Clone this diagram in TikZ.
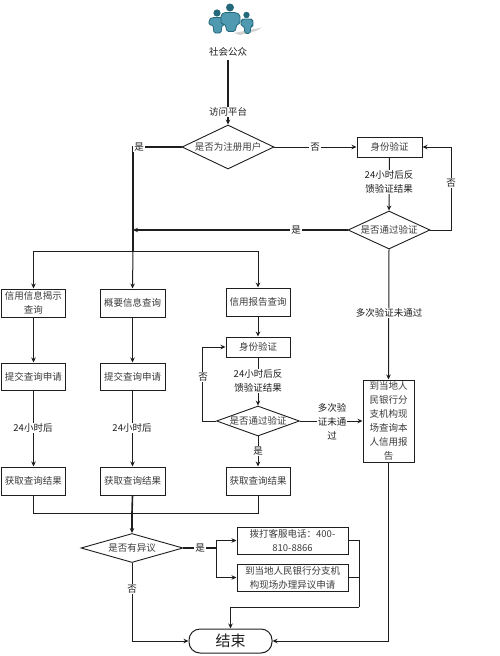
\documentclass[tikz,border=0pt]{standalone}
\usepackage{fontspec}
\setmainfont{Noto Sans CJK SC}
\usetikzlibrary{arrows.meta,positioning,calc,shapes.geometric}
\definecolor{ink}{HTML}{1E1E1E}
\definecolor{boxtext}{HTML}{3C3C3C}
\definecolor{peopledark}{HTML}{24687C}
\definecolor{peoplelight}{HTML}{4F9AB0}
\tikzset{stepbox/.style={draw=ink,line width=1pt,fill=white,align=center,font=\fontsize{9.5}{14}\selectfont,text=boxtext,inner sep=1pt},ask/.style={diamond,draw=ink,line width=.9pt,fill=white,font=\fontsize{9.5}{12}\selectfont,text=boxtext,inner sep=-2pt},flow/.style={-{Stealth[length=5pt,width=4.5pt]},line width=1pt,draw=ink},heavyflow/.style={flow,line width=1.6pt},plain/.style={line width=1pt,draw=ink},heavy/.style={line width=1.6pt,draw=ink},note/.style={fill=white,font=\fontsize{9.5}{14}\selectfont,text=ink,align=center,inner sep=1pt},person/.style={fill=peoplelight,draw=peopledark,line width=.8pt,rounded corners=1.5pt}}
\begin{document}
\begin{tikzpicture}[x=1pt,y=-1pt]
\useasboundingbox (0,0) rectangle (500,656);
% people
\fill[gray!35] (234,33) -- (262,27.5) -- (256,31) -- (240,35) -- cycle;
\draw[person] (209,20) -- (212,17.5) -- (222,17.5) -- (225,20) -- (225,25) -- (222,25) -- (221,33) -- (214,33) -- (213,25) -- (209,25) -- cycle;
\fill[peopledark] (217,13) circle (3.6pt);
\draw[person] (241,21) -- (243,19) -- (251,19) -- (253,21) -- (253,26) -- (251,26) -- (250,33.5) -- (245,33.5) -- (244,26) -- (241,26) -- cycle;
\fill[peopledark] (246.5,15) circle (3.2pt);
\draw[person] (221,15) -- (224,12.5) -- (236,12.5) -- (240,15) -- (240,24) -- (237,24) -- (235,31.5) -- (227,31.5) -- (225,24) -- (221,24) -- cycle;
\fill[peopledark] (230,7.5) circle (4pt);
\node[note,inner sep=0pt,minimum height=16pt] (public) at (228,52) {社会公众};
% decisions
\node[ask,minimum width=92pt,minimum height=44pt,aspect=2.09] (regq) at (228,147) {是否为注册用户};
\node[ask,minimum width=82pt,minimum height=38pt,aspect=2.16] (passq) at (389,230) {是否通过验证};
\node[ask,minimum width=83pt,minimum height=30pt,aspect=2.77] (passr) at (258,421) {是否通过验证};
\node[ask,minimum width=102pt,minimum height=29pt,aspect=3.5] (objq) at (132,548) {是否有异议};
% boxes
\foreach \nam/\cx/\cy/\bw/\bh/\txt in {
  idcheck/389.5/147/65/20/身份验证,
  disclose/33.5/303/64/28/{信用信息揭示\\查询},
  summary/132.5/303/65/28/概要信息查询,
  report/258/302/64/28/信用报告查询,
  submita/33.5/376.5/64/27/提交查询申请,
  submitb/132.5/376.5/65/27/提交查询申请,
  idcheckr/258/347/64/20/身份验证,
  resulta/33.5/481/64/28/获取查询结果,
  resultb/132.5/481/65/28/获取查询结果,
  resultc/258/481/64/28/获取查询结果,
  bank/388.5/421/51/82/{到当地人\\民银行分\\支机构现\\场查询本\\人信用报\\告},
  phone/292.5/540.5/111/27/{拨打客服电话：400-\\810-8866},
  apply/292.5/577.5/111/27/{到当地人民银行分支机\\构现场办理异议申请}}{
  \node[stepbox,minimum width=\bw pt,minimum height=\bh pt] (\nam) at (\cx,\cy) {\txt};
}
\node[draw=ink,line width=1pt,rounded corners=11pt,minimum width=83pt,minimum height=24pt,inner sep=0pt,font=\fontsize{15}{15}\selectfont,text=ink] (finish) at (230.5,641) {结束};
% junctions
\coordinate (regj) at (133,147);
\coordinate (passj) at (133,230);
\coordinate (splitj) at (133,251);
\coordinate (mergej) at (132,513);
\coordinate (objj) at (216,548);
\coordinate (exitj) at (359,607);
% top part
\draw[heavyflow] (public) -- (regq);
\draw[flow] (regq.east) -- (idcheck.west);
\draw[heavy] (regq.west) -- (regj) -- (splitj);
\draw[flow] (idcheck.south) -- (passq.north);
\draw[flow] (passq.east) -- ++(21,0) |- (idcheck.east);
\draw[heavyflow] (passq.west) -- (passj);
\draw[flow] (passq.south) -- (bank.north);
\draw[flow] (splitj) -| (disclose.north);
\draw[flow] (splitj) -- (summary.north);
\draw[flow] (splitj) -| (report.north);
% columns
\draw[flow] (disclose) -- (submita);
\draw[flow] (summary) -- (submitb);
\draw[flow] (submita) -- (resulta);
\draw[flow] (submitb) -- (resultb);
\draw[flow] (report) -- (idcheckr);
\draw[flow] (idcheckr) -- (passr);
\draw[flow] (passr.west) -- ++(-14,0) |- (idcheckr.west);
\draw[flow] (passr.south) -- (resultc.north);
\draw[flow] (passr.east) -- (bank.west);
% bottom part
\draw[plain] (resulta.south) |- (mergej);
\draw[plain] (resultc.south) |- (mergej);
\draw[heavy] (resultb.south) -- (mergej);
\draw[heavyflow] (mergej) -- (objq.north);
\draw[heavy] (objq.east) -- (objj);
\draw[flow] (objj) |- (phone.west);
\draw[flow] (objj) |- (apply.west);
\draw[plain] (phone.east) -| (exitj);
\draw[plain] (apply.east) -| (exitj);
\draw[flow] (exitj) -| (finish.north);
\draw[flow] (objq.south) |- (finish.west);
\draw[flow] (bank.south) |- (finish.east);
% labels
\node[note] (visit) at (228,112) {访问平台};
\node[note] (regyes) at (139,147) {是};
\node[note] (regno) at (315,147) {否};
\node[note] (feedq) at (389,182) {24小时后反\\馈验证结果};
\node[note] (passno) at (451,183) {否};
\node[note] (passyes) at (296,230) {是};
\node[note] (manyq) at (389,313) {多次验证未通过};
\node[note] (waita) at (33,428) {24小时后};
\node[note] (waitb) at (132,428) {24小时后};
\node[note] (feedr) at (258,381) {24小时后反\\馈验证结果};
\node[note] (failno) at (203,377) {否};
\node[note] (failyes) at (258,451) {是};
\node[note] (manyr) at (332,422) {多次验\\证未通\\过};
\node[note] (objyes) at (200,548) {是};
\node[note] (objno) at (132,589) {否};
\end{tikzpicture}
\end{document}
